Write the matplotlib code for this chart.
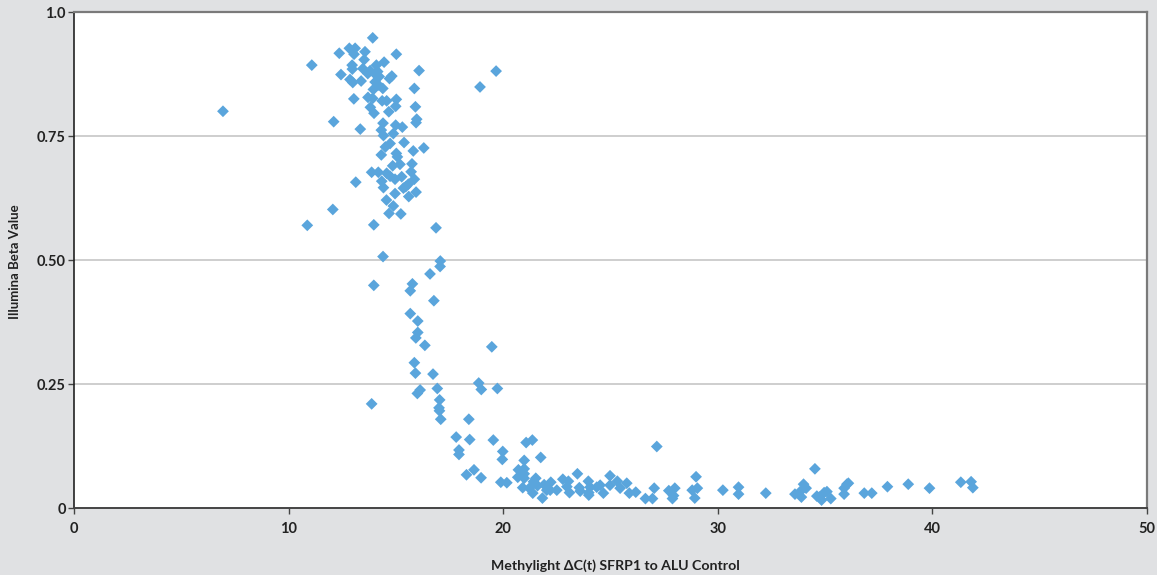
import matplotlib.pyplot as plt
from matplotlib.ticker import FixedLocator

# ===== DATA =====
# upper cluster, ΔC(t) ~ 11-20, beta ~ 0.6-0.95
delta_ct_high = [6.93, 11.07, 12.35, 12.82, 13.09, 13.04, 13.55, 13.91, 15.01, 12.43,
                 12.95, 12.96, 13.45, 13.51, 14.08, 14.44, 13.68, 13.79, 14.02, 14.14,
                 14.21, 12.85, 12.98, 13.37, 14.02, 14.17, 14.38, 14.69, 14.80, 16.07,
                 15.85, 18.91, 19.66, 13.94, 13.03, 13.69, 13.91, 14.35, 14.56, 15.01,
                 14.98, 13.80, 13.97, 14.66, 15.90, 15.96, 15.93, 12.09, 13.33, 14.39,
                 14.98, 15.29, 14.31, 14.41, 14.87, 15.37, 16.29, 15.80, 14.50, 14.72,
                 14.31, 15.01, 15.06, 14.84, 15.18, 15.74, 15.70, 13.86, 14.17, 14.56,
                 14.72, 14.95, 14.33, 15.26, 15.85, 13.12, 14.41, 15.34, 15.57, 15.45,
                 14.95, 15.93, 15.59, 14.55, 14.87, 12.05, 14.67, 15.22]
beta_high = [0.800, 0.893, 0.917, 0.927, 0.927, 0.915, 0.920, 0.948, 0.915, 0.874,
             0.893, 0.885, 0.886, 0.904, 0.893, 0.899, 0.876, 0.882, 0.875, 0.880,
             0.870, 0.864, 0.858, 0.861, 0.859, 0.853, 0.846, 0.866, 0.871, 0.882,
             0.846, 0.849, 0.881, 0.844, 0.825, 0.828, 0.826, 0.821, 0.821, 0.824,
             0.810, 0.808, 0.796, 0.799, 0.809, 0.784, 0.777, 0.779, 0.764, 0.776,
             0.772, 0.768, 0.762, 0.751, 0.755, 0.737, 0.726, 0.720, 0.728, 0.735,
             0.712, 0.715, 0.708, 0.690, 0.693, 0.694, 0.678, 0.677, 0.677, 0.675,
             0.669, 0.663, 0.659, 0.668, 0.663, 0.657, 0.646, 0.645, 0.653, 0.648,
             0.634, 0.637, 0.628, 0.621, 0.609, 0.602, 0.594, 0.593]

# transition, ΔC(t) ~ 11-20, beta ~ 0.1-0.6
delta_ct_mid = [10.86, 13.96, 16.86, 14.39, 17.06, 17.05, 16.58, 15.76, 15.66, 13.96,
                16.76, 15.66, 16.01, 16.01, 15.92, 16.34, 19.46, 15.85, 15.90, 16.72,
                18.85, 18.97, 19.72, 16.92, 16.12, 15.99, 17.03, 17.00, 17.02, 13.86,
                17.08, 18.39, 17.80, 18.43, 19.53, 17.93, 17.93, 19.97, 19.95, 21.06,
                21.35, 21.74, 20.97, 27.15]
beta_mid = [0.570, 0.571, 0.565, 0.507, 0.498, 0.487, 0.472, 0.452, 0.438, 0.449,
            0.418, 0.392, 0.377, 0.354, 0.343, 0.328, 0.325, 0.293, 0.272, 0.270,
            0.252, 0.239, 0.241, 0.241, 0.238, 0.231, 0.218, 0.202, 0.196, 0.210,
            0.179, 0.179, 0.143, 0.138, 0.137, 0.117, 0.108, 0.114, 0.098, 0.132,
            0.137, 0.102, 0.096, 0.124]

# low tail, ΔC(t) > 18, beta < 0.08
delta_ct_low = [18.28, 18.63, 18.96, 19.88, 20.16, 20.70, 20.97, 20.97, 20.67, 20.97,
                21.51, 21.40, 21.59, 20.90, 21.21, 21.37, 21.90, 22.02, 22.21, 22.18,
                22.49, 21.82, 22.77, 23.03, 22.96, 23.08, 23.45, 23.54, 23.58, 23.96,
                24.04, 23.98, 23.98, 24.35, 24.51, 24.66, 24.97, 24.97, 25.31, 25.44,
                25.75, 25.87, 26.17, 26.62, 26.95, 27.03, 27.71, 27.99, 27.93, 27.88,
                28.98, 28.80, 29.04, 28.92, 30.23, 30.96, 30.96, 32.23, 33.59, 33.83,
                33.89, 33.99, 34.11, 34.52, 34.61, 34.83, 34.95, 35.08, 35.26, 34.73,
                35.88, 35.88, 36.01, 36.08, 36.82, 37.17, 37.90, 38.87, 39.86, 41.32,
                41.80, 41.88]
beta_low = [0.067, 0.077, 0.061, 0.052, 0.051, 0.077, 0.079, 0.069, 0.062, 0.060,
            0.060, 0.053, 0.045, 0.041, 0.040, 0.030, 0.047, 0.036, 0.052, 0.036,
            0.036, 0.020, 0.058, 0.054, 0.043, 0.031, 0.069, 0.041, 0.034, 0.054,
            0.042, 0.031, 0.026, 0.042, 0.046, 0.030, 0.065, 0.046, 0.054, 0.040,
            0.050, 0.030, 0.032, 0.019, 0.019, 0.040, 0.035, 0.040, 0.025, 0.019,
            0.063, 0.036, 0.040, 0.020, 0.036, 0.042, 0.028, 0.030, 0.028, 0.033,
            0.022, 0.048, 0.040, 0.079, 0.024, 0.016, 0.031, 0.033, 0.019, 0.022,
            0.040, 0.028, 0.048, 0.050, 0.030, 0.030, 0.043, 0.048, 0.040, 0.052,
            0.053, 0.041]

x_ticks = [0, 10, 20, 30, 40, 50]
y_ticks = [0, 0.25, 0.50, 0.75, 1.0]
y_tick_labels = ["0", "0.25", "0.50", "0.75", "1.0"]

# ===== STYLE =====
BG = "#e0e1e3"
POINT = "#5aa5dc"
FONT = ["Lato", "DejaVu Sans"]
plt.rcParams["font.family"] = FONT

fig = plt.figure(figsize=(11.57, 5.75), dpi=100, facecolor=BG)
ax = fig.add_axes([0.0642, 0.1165, 0.9272, 0.8625])
ax.set_facecolor("white")

x_all = delta_ct_high + delta_ct_mid + delta_ct_low
y_all = beta_high + beta_mid + beta_low
ax.scatter(x_all, y_all, marker="D", s=36, color=POINT, edgecolors="none", zorder=3)

ax.set_xlim(0, 50)
ax.set_ylim(0, 1.0)
ax.xaxis.set_major_locator(FixedLocator(x_ticks))
ax.set_yticks(y_ticks)
ax.set_yticklabels(y_tick_labels)

for yv in y_ticks[1:-1]:
    ax.axhline(yv, color="#c6c6c6", lw=1.2, zorder=1)

for side in ["top", "right"]:
    ax.spines[side].set_color("#7a7a7a")
    ax.spines[side].set_linewidth(1.6)
ax.spines["left"].set_color("#222222")
ax.spines["bottom"].set_color("#444444")
ax.spines["left"].set_linewidth(1.2)
ax.spines["bottom"].set_linewidth(1.4)

ax.tick_params(axis="both", direction="out", length=4, width=1, color="#444444",
               labelsize=10.5, labelcolor="#222222")
for lab in ax.get_xticklabels() + ax.get_yticklabels():
    lab.set_fontweight("bold")
ax.tick_params(axis="x", pad=6)
ax.tick_params(axis="y", pad=2)

fig.text(0.532, 0.016, "Methylight \u0394C(t) SFRP1 to ALU Control", ha="center",
         va="center", fontsize=10.2, fontweight="bold", color="#222222")
fig.text(0.013, 0.545, "Illumina Beta Value", ha="center", va="center",
         rotation=90, fontsize=9.5, fontweight="bold", color="#222222")

fig.savefig("out.png", dpi=100, facecolor=BG)
